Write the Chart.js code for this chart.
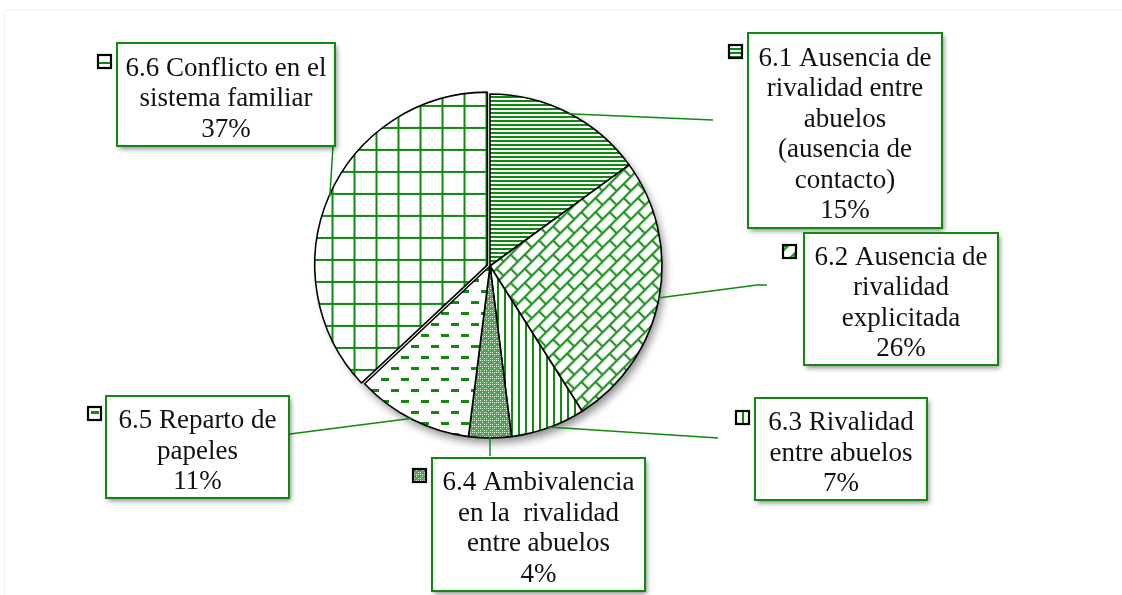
<!DOCTYPE html>
<html lang="es">
<head>
    <meta charset="UTF-8">
    <title>Rivalidad entre abuelos</title>
    <script src="https://cdn.jsdelivr.net/npm/chart.js"></script>
    <style>
        body {
            margin: 0;
            padding: 0;
            background: #fff;
        }

        #wrap {
            width: 1122px;
            height: 595px;
        }
    </style>
</head>
<body>
    <div id="wrap">
        <canvas id="pieChart" width="1122" height="595"></canvas>
    </div>
    <script>
        // data
        var categories = [
            '6.1 Ausencia de rivalidad entre abuelos (ausencia de contacto)',
            '6.2 Ausencia de rivalidad explicitada',
            '6.3 Rivalidad entre abuelos',
            '6.4 Ambivalencia en la  rivalidad entre abuelos',
            '6.5 Reparto de papeles',
            '6.6 Conflicto en el sistema familiar'
        ];
        var percentages = [15, 26, 7, 4, 11, 37];
        var percentLabels = ['15%', '26%', '7%', '4%', '11%', '37%'];
        // how each label wraps inside its box
        var labelLines = [
            ['6.1 Ausencia de', 'rivalidad entre', 'abuelos', '(ausencia de', 'contacto)'],
            ['6.2 Ausencia de', 'rivalidad', 'explicitada'],
            ['6.3 Rivalidad', 'entre abuelos'],
            ['6.4 Ambivalencia', 'en la  rivalidad', 'entre abuelos'],
            ['6.5 Reparto de', 'papeles'],
            ['6.6 Conflicto en el', 'sistema familiar']
        ];

        // layout of the label boxes (x, y, w, h), legend key and leader line end
        var boxes = [
            { x: 748, y: 33, w: 194, h: 195, key: [729, 45], lead: [[713, 120]] },
            { x: 804, y: 233, w: 194, h: 132, key: [783, 245], lead: [[757, 285], [767, 285]] },
            { x: 755, y: 398, w: 172, h: 102, key: [736, 411], lead: [[718, 438]] },
            { x: 432, y: 458, w: 213, h: 133, key: [413, 469], lead: [[490, 456]] },
            { x: 106, y: 396, w: 183, h: 102, key: [88, 407], lead: [[290, 434]] },
            { x: 117, y: 43, w: 218, h: 103, key: [98, 55], lead: [[333, 146]] }
        ];

        var GREEN = '#0f8a0f';
        var canvas = document.getElementById('pieChart');
        var ctx = canvas.getContext('2d');

        function makeTile(w, h, draw) {
            var c = document.createElement('canvas');
            c.width = w;
            c.height = h;
            var g = c.getContext('2d');
            g.fillStyle = '#fff';
            g.fillRect(0, 0, w, h);
            g.fillStyle = GREEN;
            g.strokeStyle = GREEN;
            draw(g);
            return c;
        }

        function pattern(tile, matrix) {
            var p = ctx.createPattern(tile, 'repeat');
            if (matrix) p.setTransform(matrix);
            return p;
        }

        var patterns = [
            // horizontal stripes
            pattern(makeTile(4, 4, function (g) { g.fillRect(0, 0, 4, 2); })),
            // diagonal brick
            pattern(makeTile(20, 20, function (g) {
                g.lineWidth = 2.2;
                g.strokeStyle = '#239623';
                g.beginPath();
                g.moveTo(0, 1.1); g.lineTo(20, 1.1);
                g.moveTo(0, 11.1); g.lineTo(20, 11.1);
                g.moveTo(1.1, 0); g.lineTo(1.1, 11.1);
                g.moveTo(11.1, 11.1); g.lineTo(11.1, 20);
                g.stroke();
            }), new DOMMatrix().rotate(-45)),
            // vertical stripes
            pattern(makeTile(7, 4, function (g) { g.fillRect(0, 0, 2, 4); })),
            // fine checker
            pattern(makeTile(6, 6, function (g) {
                g.fillStyle = '#4aa84a';
                g.fillRect(0, 0, 6, 6);
                g.fillStyle = '#e4f4e4';
                g.fillRect(0, 0, 1, 1);
                g.fillRect(2, 2, 1, 1);
                g.fillRect(4, 4, 1, 1);
                g.fillRect(0, 4, 1, 1);
                g.fillRect(4, 0, 1, 1);
                g.fillRect(2, 0, 1, 1);
            })),
            // dashes
            pattern(makeTile(20, 22, function (g) {
                g.fillRect(1, 4, 8, 3);
                g.fillRect(11, 15, 8, 3);
            })),
            // grid
            pattern(makeTile(22, 22, function (g) {
                g.fillRect(0, 0, 22, 2);
                g.fillRect(0, 0, 2, 22);
            }), new DOMMatrix().translate(4, 18))
        ];

        var labelPlugin = {
            id: 'boxLabels',
            beforeDraw: function (chart) {
                var g = chart.ctx;
                g.save();
                g.strokeStyle = '#f1f1f1';
                g.lineWidth = 1;
                g.beginPath();
                g.moveTo(4.5, 595);
                g.lineTo(4.5, 10.5);
                g.lineTo(1122, 10.5);
                g.stroke();
                g.restore();
            },
            beforeDatasetsDraw: function (chart) {
                // soft shadow under the pie
                var arc = chart.getDatasetMeta(0).data[0];
                var g = chart.ctx;
                g.save();
                g.shadowColor = 'rgba(0,0,0,0.45)';
                g.shadowBlur = 9;
                g.shadowOffsetX = 3;
                g.shadowOffsetY = 5;
                g.fillStyle = '#fff';
                g.beginPath();
                g.arc(arc.x, arc.y, arc.outerRadius, 0, Math.PI * 2);
                g.fill();
                g.restore();
            },
            afterDatasetsDraw: function (chart) {
                var g = chart.ctx;
                var arcs = chart.getDatasetMeta(0).data;
                g.save();

                // leader lines
                g.strokeStyle = GREEN;
                g.lineWidth = 1.5;
                arcs.forEach(function (arc, i) {
                    var mid = (arc.startAngle + arc.endAngle) / 2;
                    var off = (arc.options.offset || 0) / 4 * (2 - Math.sin(Math.min(Math.PI, arc.circumference)));
                    var r = arc.outerRadius - 1;
                    g.beginPath();
                    g.moveTo(arc.x + Math.cos(mid) * (r + off), arc.y + Math.sin(mid) * (r + off));
                    boxes[i].lead.forEach(function (p) { g.lineTo(p[0], p[1]); });
                    g.stroke();
                });

                // boxes with text
                g.font = '27px "Liberation Serif", serif';
                g.textAlign = 'center';
                g.textBaseline = 'middle';
                var lineH = 30.5;
                boxes.forEach(function (b, i) {
                    g.save();
                    g.shadowColor = 'rgba(0,0,0,0.45)';
                    g.shadowBlur = 5;
                    g.shadowOffsetX = 2;
                    g.shadowOffsetY = 3;
                    g.fillStyle = '#fff';
                    g.fillRect(b.x, b.y, b.w, b.h);
                    g.restore();
                    g.strokeStyle = GREEN;
                    g.lineWidth = 2;
                    g.strokeRect(b.x, b.y, b.w, b.h);

                    var lines = labelLines[i].concat([percentLabels[i]]);
                    var top = b.y + b.h / 2 - (lines.length - 1) * lineH / 2 + 4.5;
                    g.fillStyle = '#111';
                    lines.forEach(function (t, k) {
                        g.fillText(t, b.x + b.w / 2, top + k * lineH);
                    });

                    // legend key
                    g.fillStyle = patterns[i];
                    g.fillRect(b.key[0], b.key[1], 13, 13);
                    g.strokeStyle = '#000';
                    g.lineWidth = 2.2;
                    g.strokeRect(b.key[0], b.key[1], 13, 13);
                });
                g.restore();
            }
        };

        new Chart(ctx, {
            type: 'pie',
            data: {
                labels: categories,
                datasets: [{
                    data: percentages,
                    backgroundColor: patterns,
                    borderColor: '#000',
                    borderWidth: 1.6,
                    offset: [0, 0, 0, 0, 0, 11],
                    radius: 172
                }]
            },
            options: {
                responsive: false,
                animation: false,
                layout: {
                    padding: { left: 0, right: 142, top: 0, bottom: 63 }
                },
                plugins: {
                    legend: { display: false },
                    tooltip: { enabled: false }
                }
            },
            plugins: [labelPlugin]
        });
    </script>
</body>
</html>
